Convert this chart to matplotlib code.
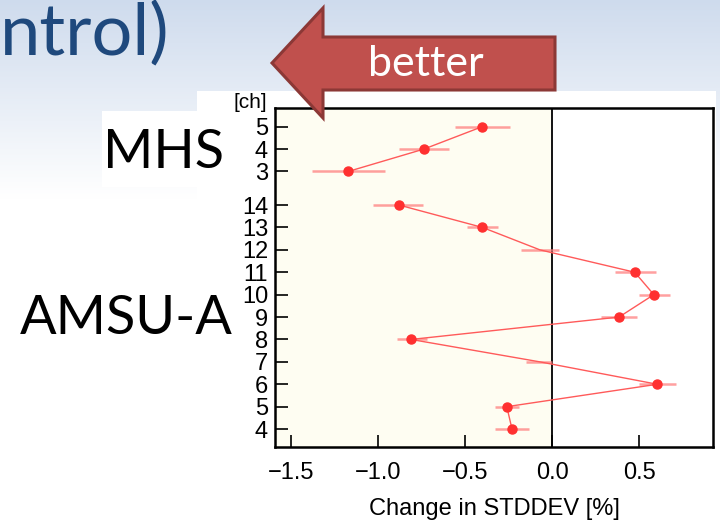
import matplotlib
matplotlib.use("Agg")
import matplotlib.pyplot as plt
import numpy as np
from matplotlib.patches import Polygon, Rectangle

# AMSU-A channels 4..14
amsu_ch = [4, 5, 6, 7, 8, 9, 10, 11, 12, 13, 14]
amsu_val = [-0.23, -0.26, 0.605, -0.07, -0.81, 0.385, 0.585, 0.475, -0.07, -0.40, -0.88]
amsu_lo = [-0.33, -0.33, 0.50, -0.15, -0.89, 0.28, 0.50, 0.36, -0.18, -0.49, -1.03]
amsu_hi = [-0.13, -0.19, 0.71, 0.00, -0.72, 0.49, 0.68, 0.60, 0.04, -0.31, -0.74]
amsu_sig = [1, 1, 1, 0, 1, 1, 1, 1, 0, 1, 1]

# MHS channels 3..5
mhs_ch = [3, 4, 5]
mhs_val = [-1.17, -0.735, -0.40]
mhs_lo = [-1.38, -0.88, -0.56]
mhs_hi = [-0.96, -0.59, -0.24]
mhs_sig = [1, 1, 1]

xticks = [-1.5, -1.0, -0.5, 0.0, 0.5]

W, H = 720, 522
fig = plt.figure(figsize=(7.2, 5.22), dpi=100)

# slide background
bg = fig.add_axes([0, 0, 1, 1], zorder=0)
bg.set_xlim(0, W)
bg.set_ylim(H, 0)
bg.axis("off")
grad = np.linspace(0, 1, 256).reshape(-1, 1)
top = np.array([0.81, 0.86, 0.93])
cols = top + (1 - top) * np.clip(grad / 0.38, 0, 1)[..., None] * np.ones(3)
bg.imshow(cols.reshape(256, 1, 3), extent=[0, W, H, 0], aspect="auto")
bg.add_patch(Rectangle((197, 91), 519, H - 91, color="white", lw=0))
bg.add_patch(Rectangle((102, 111), 96, 76, color="white", lw=0))
bg.text(0, 34, "ntrol)", fontsize=52, color="#1f497d", family="Lato",
        va="center", ha="left")
bg.text(164, 152, "MHS", fontsize=39, color="black", family="Lato",
        va="center", ha="center")
bg.text(126, 318, "AMSU-A", fontsize=39, color="black", family="Lato",
        va="center", ha="center")
bg.text(250, 102, "[ch]", fontsize=15, family="Liberation Sans", ha="center", va="center")

# chart
ax = fig.add_axes([275 / W, 1 - 447 / H, 438 / W, 339 / H], zorder=1)
ax.set_xlim(-1.592, 0.925)
ax.set_ylim(-0.8, 14.33)
ax.axvspan(-2, 0, color="#fefdf2", lw=0, zorder=0)
ax.axvline(0, color="black", lw=1.3, zorder=1)

amsu_y = [c - 4 for c in amsu_ch]
mhs_y = [10 + 1.5 + (c - 3) for c in mhs_ch]

for ys, v, lo, hi, sig in [(amsu_y, amsu_val, amsu_lo, amsu_hi, amsu_sig),
                           (mhs_y, mhs_val, mhs_lo, mhs_hi, mhs_sig)]:
    v = np.array(v)
    ax.hlines(ys, lo, hi, color="#ff8080", alpha=0.75, lw=1.8, zorder=2)
    ax.plot(v, ys, color="#ff5a5a", lw=1.0, zorder=3)
    s = np.array(sig) == 1
    ax.plot(v[s], np.array(ys)[s], "o", color="#ff3030", ms=6.5, zorder=4)

ax.set_yticks(amsu_y + mhs_y)
ax.set_yticklabels([str(c) for c in amsu_ch + mhs_ch])
ax.set_xticks(xticks)
ax.set_xticklabels(["\u22121.5", "\u22121.0", "\u22120.5", "0.0", "0.5"])
ax.tick_params(axis="y", direction="in", length=9, width=1.2, labelsize=17, pad=5)
ax.tick_params(axis="x", direction="in", length=9, width=1.2, labelsize=17, pad=11)
for lab in ax.get_xticklabels() + ax.get_yticklabels():
    lab.set_family("Liberation Sans")
for sp in ax.spines.values():
    sp.set_linewidth(1.8)
ax.set_xlabel("Change in STDDEV [%]", fontsize=17, family="Liberation Sans", labelpad=10)

# "better" arrow on top
ov = fig.add_axes([0, 0, 1, 1], zorder=2)
ov.set_xlim(0, W)
ov.set_ylim(H, 0)
ov.axis("off")
ov.patch.set_alpha(0)
pts = [(272, 63), (323, 8), (323, 37), (555, 37), (555, 90), (323, 90), (323, 118)]
ov.add_patch(Polygon(pts, closed=True, facecolor="#c0504d", edgecolor="#8c3836", lw=2.2))
ov.text(426, 64, "better", fontsize=31, color="white", family="Lato",
        ha="center", va="center")

fig.savefig("out.png", dpi=100)
